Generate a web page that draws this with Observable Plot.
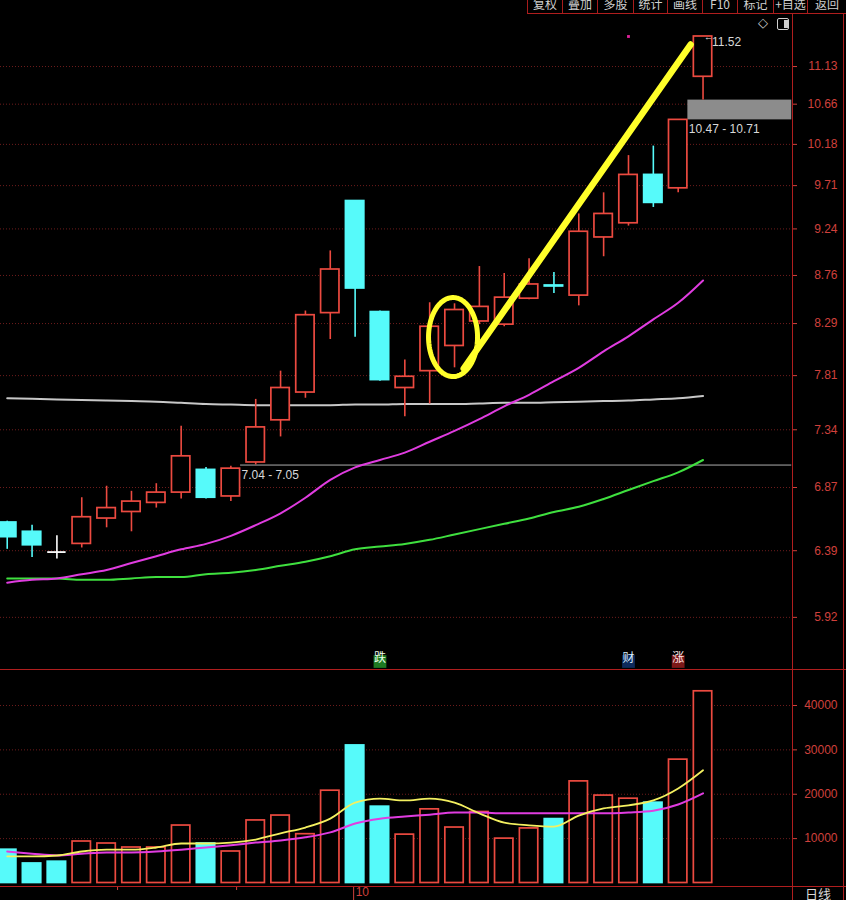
<!DOCTYPE html>
<html><head><meta charset="utf-8">
<script src="https://cdn.jsdelivr.net/npm/d3@7"></script>
<script src="https://cdn.jsdelivr.net/npm/@observablehq/plot@0.6"></script>
<style>
html,body{margin:0;padding:0;background:#000;}
#wrap{position:relative;width:846px;height:900px;background:#000;overflow:hidden;font-family:"Liberation Sans",Arial,"Noto Sans CJK SC",sans-serif;}
.tb{position:absolute;top:0;height:13px;border-left:1px solid #a81c1c;overflow:visible;color:#cfcfcf;font:12px "Noto Sans CJK SC",sans-serif;text-align:center;white-space:nowrap;}
.tb span{position:relative;top:-5px;line-height:12px;}
</style></head><body>
<div id="wrap"></div>
<script>
// ---------- data ----------
const opens  = [6.60,6.53,6.38,6.44,6.63,6.68,6.75,6.83,7.01,6.80,7.07,7.42,7.66,8.39,9.54,8.40,7.70,7.85,8.08,8.31,8.28,8.53,8.66,8.56,9.15,9.30,9.83,9.68,11.00];
const highs  = [6.61,6.58,6.50,6.79,6.88,6.84,6.90,7.37,7.03,7.04,7.60,7.85,8.41,9.01,9.54,8.41,7.95,8.49,8.48,8.85,8.78,8.93,8.79,9.40,9.63,10.05,10.16,10.47,11.52];
const lows   = [6.40,6.34,6.33,6.41,6.56,6.53,6.71,6.78,6.78,6.76,7.05,7.28,7.61,8.14,8.16,7.76,7.45,7.56,7.88,8.28,8.26,8.52,8.58,8.46,8.95,9.27,9.47,9.63,10.71];
const closes = [6.49,6.43,6.38,6.64,6.71,6.76,6.83,7.12,6.79,7.02,7.36,7.70,8.37,8.82,8.63,7.77,7.80,8.26,8.42,8.45,8.54,8.67,8.65,9.21,9.40,9.83,9.52,10.47,11.52];
const volumes = [7500,4400,4800,9350,8900,8000,8000,12950,8900,7100,14100,15200,11000,20800,31000,17200,10900,16600,12500,16000,10000,12300,14400,22900,19700,19000,18100,27800,43200];

const ma20  = [6.16,6.18,6.19,6.22,6.25,6.30,6.35,6.40,6.44,6.50,6.58,6.67,6.79,6.93,7.03,7.09,7.15,7.24,7.33,7.43,7.54,7.64,7.76,7.88,8.03,8.17,8.33,8.49,8.71];
const ma60  = [6.19,6.19,6.19,6.18,6.18,6.19,6.20,6.20,6.22,6.23,6.25,6.28,6.31,6.35,6.40,6.42,6.44,6.47,6.51,6.55,6.59,6.63,6.68,6.72,6.78,6.85,6.92,6.99,7.09];
const maLong = [7.61,7.605,7.60,7.595,7.59,7.585,7.58,7.57,7.56,7.555,7.55,7.55,7.55,7.55,7.555,7.555,7.56,7.56,7.56,7.565,7.57,7.57,7.575,7.58,7.585,7.59,7.60,7.61,7.63];

const volMA5  = [6000,6000,6200,7100,7500,7500,8000,8900,8900,9100,9800,11200,12500,14500,18100,19000,18600,19000,18100,15700,13600,13000,12700,15200,16800,17500,18600,21300,25400];
const volMA10 = [7100,6600,6200,6600,6900,6900,7100,7500,8000,8500,9100,9600,10300,11400,13400,14500,15000,15400,15900,15900,15700,15700,15700,15700,15700,15900,16300,17700,20200];

const priceTicks = [11.13,10.66,10.18,9.71,9.24,8.76,8.29,7.81,7.34,6.87,6.39,5.92];
const volTicks = [10000,20000,30000,40000];
const minorDateTicks = [4.44, 9.23];
const monthTicks = [{i: 13.94, label: "10"}];
const events = [{i: 15, t: "跌"}, {i: 25, t: "财"}, {i: 27, t: "涨"}];
const highMarks = [{i: 25, v: 11.52}];
const tools = ["复权","叠加","多股","统计","画线","F10","标记","+自选","返回"];
// hand-drawn annotation: circle round candle 18 and a stroke up to the last candle
const circled = {i: 17.94, p: 8.163};
const strokeLine = [{i: 18.37, p: 7.874}, {i: 27.5, p: 11.414}];

// ---------- styles ----------
const RED = "#ec4a40", CYAN = "#56fafa", WHITE = "#ffffff";
const AX = "#d0403c", GRID = "#6e1c1c", FRAME = "#b01e1e";
const FONT = '"Liberation Sans", Arial, sans-serif';
const CJK = '"Noto Sans CJK SC", sans-serif';
const HW = 0.37;
const xDomain = [-0.27, 31.6];

const idx = d3.range(opens.length);
const candles = idx.map(i => {
  const dir = closes[i] > opens[i] ? 1 : closes[i] < opens[i] ? -1 : 0;
  const vdir = dir !== 0 ? dir : (i > 0 && closes[i] < closes[i - 1] ? -1 : 1);
  return {i, o: opens[i], h: highs[i], l: lows[i], c: closes[i], v: volumes[i], dir, vdir};
});
const col = d => d.dir > 0 ? RED : d.dir < 0 ? CYAN : WHITE;

const gaps = [];
for (let i = 1; i < candles.length; i++) if (lows[i] > highs[i - 1]) gaps.push({i, lo: highs[i - 1], hi: lows[i]});

const ellipse = d3.range(0, 2 * Math.PI + 0.05, 0.05).map(t => ({
  i: circled.i + 0.986 * Math.cos(t),
  p: circled.p * Math.exp(0.0453 * Math.sin(t))
}));

const evStyle = {"跌": ["#1e7a22", "#eaffea"], "财": ["#0e2a5c", "#d6ecff"], "涨": ["#7c1818", "#ffe4e4"]};

const wrap = document.getElementById("wrap");
function box(left, top, w, h, bg) {
  const d = document.createElement("div");
  d.style.cssText = `position:absolute;left:${left}px;top:${top}px;width:${w}px;height:${h}px;background:${bg}`;
  wrap.appendChild(d);
  return d;
}

// ---------- price panel ----------
const price = Plot.plot({
  width: 846, height: 655,
  marginTop: 0, marginBottom: 0, marginLeft: 0, marginRight: 54,
  style: {background: "transparent", color: AX, fontFamily: FONT, fontSize: "12px", overflow: "visible"},
  x: {domain: xDomain, axis: null},
  y: {type: "log", domain: [5.5766, 11.814], axis: null},
  marks: [
    Plot.gridY(priceTicks, {stroke: GRID, strokeOpacity: 1, strokeDasharray: "1,2"}),
    Plot.axisY(priceTicks, {anchor: "right", label: null, tickSize: 4, tickPadding: 41, textAnchor: "end",
      tickFormat: d => d.toFixed(2), stroke: AX, fill: AX}),
    Plot.rect(gaps, {x1: d => d.i - 1 + HW + 0.02, x2: xDomain[1] - 0.03, y1: "lo", y2: "hi", fill: "#8c8c8c"}),
    Plot.text(gaps, {x: d => d.i - 1 + HW + 0.06, y: "lo", dy: 9, textAnchor: "start",
      text: d => `${d.lo.toFixed(2)} - ${d.hi.toFixed(2)}`, fill: "#d8d8d8", fontSize: 12}),
    Plot.line(idx, {x: i => i, y: i => maLong[i], stroke: "#c8c8c8", strokeWidth: 2, curve: "monotone-x"}),
    Plot.line(idx, {x: i => i, y: i => ma60[i], stroke: "#3fe03f", strokeWidth: 2, curve: "monotone-x"}),
    Plot.line(idx, {x: i => i, y: i => ma20[i], stroke: "#e03ce0", strokeWidth: 2, curve: "monotone-x"}),
    Plot.ruleX(candles, {x: "i", y1: "l", y2: "h", stroke: col, strokeWidth: 1.6}),
    Plot.rect(candles.filter(d => d.dir !== 0), {x1: d => d.i - HW, x2: d => d.i + HW, y1: "o", y2: "c",
      fill: d => d.dir > 0 ? "#000000" : CYAN, stroke: col, strokeWidth: 1.7}),
    Plot.ruleY(candles.filter(d => d.dir === 0), {y: "c", x1: d => d.i - HW, x2: d => d.i + HW, stroke: col, strokeWidth: 1.8}),
    Plot.text([candles[candles.length - 1]], {x: "i", y: "h", dx: 9, dy: 6, textAnchor: "start",
      text: d => d.h.toFixed(2), fill: "#d8d8d8", fontSize: 12}),
    Plot.text([candles[candles.length - 1]], {x: "i", y: "h", dx: 1, dy: 1, textAnchor: "start",
      text: () => "←", fill: "#e8e8e8", fontSize: 9}),
    Plot.dot(highMarks, {x: "i", y: "v", symbol: "square", r: 1.6, fill: "#e0209a"}),
    Plot.dot(events, {x: "i", frameAnchor: "bottom", dy: -8, symbol: "square", r: 7.2, fill: d => evStyle[d.t][0]}),
    Plot.text(events, {x: "i", frameAnchor: "bottom", dy: -8, text: "t", fill: d => evStyle[d.t][1], fontSize: 12, fontFamily: CJK}),
    Plot.line(ellipse, {x: "i", y: "p", stroke: "#ffff2a", strokeWidth: 5, curve: "linear"}),
    Plot.line(strokeLine, {x: "i", y: "p", stroke: "#ffff2a", strokeWidth: 6.5, strokeLinecap: "round"})
  ]
});
price.style.position = "absolute";
price.style.left = "0px";
price.style.top = "14px";
wrap.appendChild(price);

// ---------- volume panel ----------
const vol = Plot.plot({
  width: 846, height: 230,
  marginTop: 0, marginBottom: 14, marginLeft: 0, marginRight: 54,
  style: {background: "transparent", color: AX, fontFamily: FONT, fontSize: "12px", overflow: "visible"},
  x: {domain: xDomain, axis: null},
  y: {domain: [-789, 47887], axis: null},
  marks: [
    Plot.gridY(volTicks, {stroke: GRID, strokeOpacity: 1, strokeDasharray: "1,2"}),
    Plot.axisY(volTicks, {anchor: "right", label: null, tickSize: 4, tickPadding: 41, textAnchor: "end",
      tickFormat: d => String(d), stroke: AX, fill: AX}),
    Plot.rect(candles, {x1: d => d.i - HW, x2: d => d.i + HW, y1: 0, y2: "v",
      fill: d => d.vdir > 0 ? "#000000" : CYAN, stroke: d => d.vdir > 0 ? RED : CYAN, strokeWidth: 1.7}),
    Plot.line(idx, {x: i => i, y: i => volMA10[i], stroke: "#e03ce0", strokeWidth: 2, curve: "monotone-x"}),
    Plot.line(idx, {x: i => i, y: i => volMA5[i], stroke: "#f4f060", strokeWidth: 1.8, curve: "monotone-x"}),
    Plot.axisX(minorDateTicks, {anchor: "bottom", label: null, tickSize: 4, tickFormat: () => "", stroke: AX}),
    Plot.axisX(monthTicks.map(d => d.i), {anchor: "bottom", label: null, tickSize: 14, tickFormat: () => "", stroke: AX}),
    Plot.text(monthTicks, {x: "i", frameAnchor: "bottom", dy: 9, dx: 2, textAnchor: "start", text: "label", fill: AX, fontSize: 12})
  ]
});
vol.style.position = "absolute";
vol.style.left = "0px";
vol.style.top = "670px";
wrap.appendChild(vol);

// ---------- frame lines ----------
box(527, 13, 319, 1, FRAME);       // under toolbar
box(792, 13, 1, 887, FRAME);       // price axis divider
box(843, 13, 1, 887, FRAME);       // right border
box(0, 669, 846, 1, FRAME);        // price/volume separator
box(0, 886, 846, 1, FRAME);        // date axis line

// toolbar
const tbEdges = [527, 562, 597, 633, 667, 702, 737, 773, 807, 846];
tools.forEach((t, k) => {
  const d = document.createElement("div");
  d.className = "tb";
  d.style.left = tbEdges[k] + "px";
  d.style.width = (tbEdges[k + 1] - tbEdges[k] - 1) + "px";
  d.innerHTML = `<span>${t}</span>`;
  wrap.appendChild(d);
});

// small icons at top right of the price panel
const dia = document.createElement("div");
dia.textContent = "◇";
dia.style.cssText = "position:absolute;left:758px;top:15px;color:#d0d0d0;font:13px 'DejaVu Sans',sans-serif;";
wrap.appendChild(dia);
const sq = box(777, 18, 10, 10, "transparent");
sq.style.border = "1px solid #cfcfcf";
sq.style.borderRadius = "2px";
const sqf = box(784, 20, 4, 8, "#cfcfcf");

// 日线 label
const rx = document.createElement("div");
rx.textContent = "日线";
rx.style.cssText = "position:absolute;left:793px;width:50px;top:886px;text-align:center;color:#d8d8d8;font:13px 'Noto Sans CJK SC',sans-serif;line-height:16px;";
wrap.appendChild(rx);
</script>
</body></html>
